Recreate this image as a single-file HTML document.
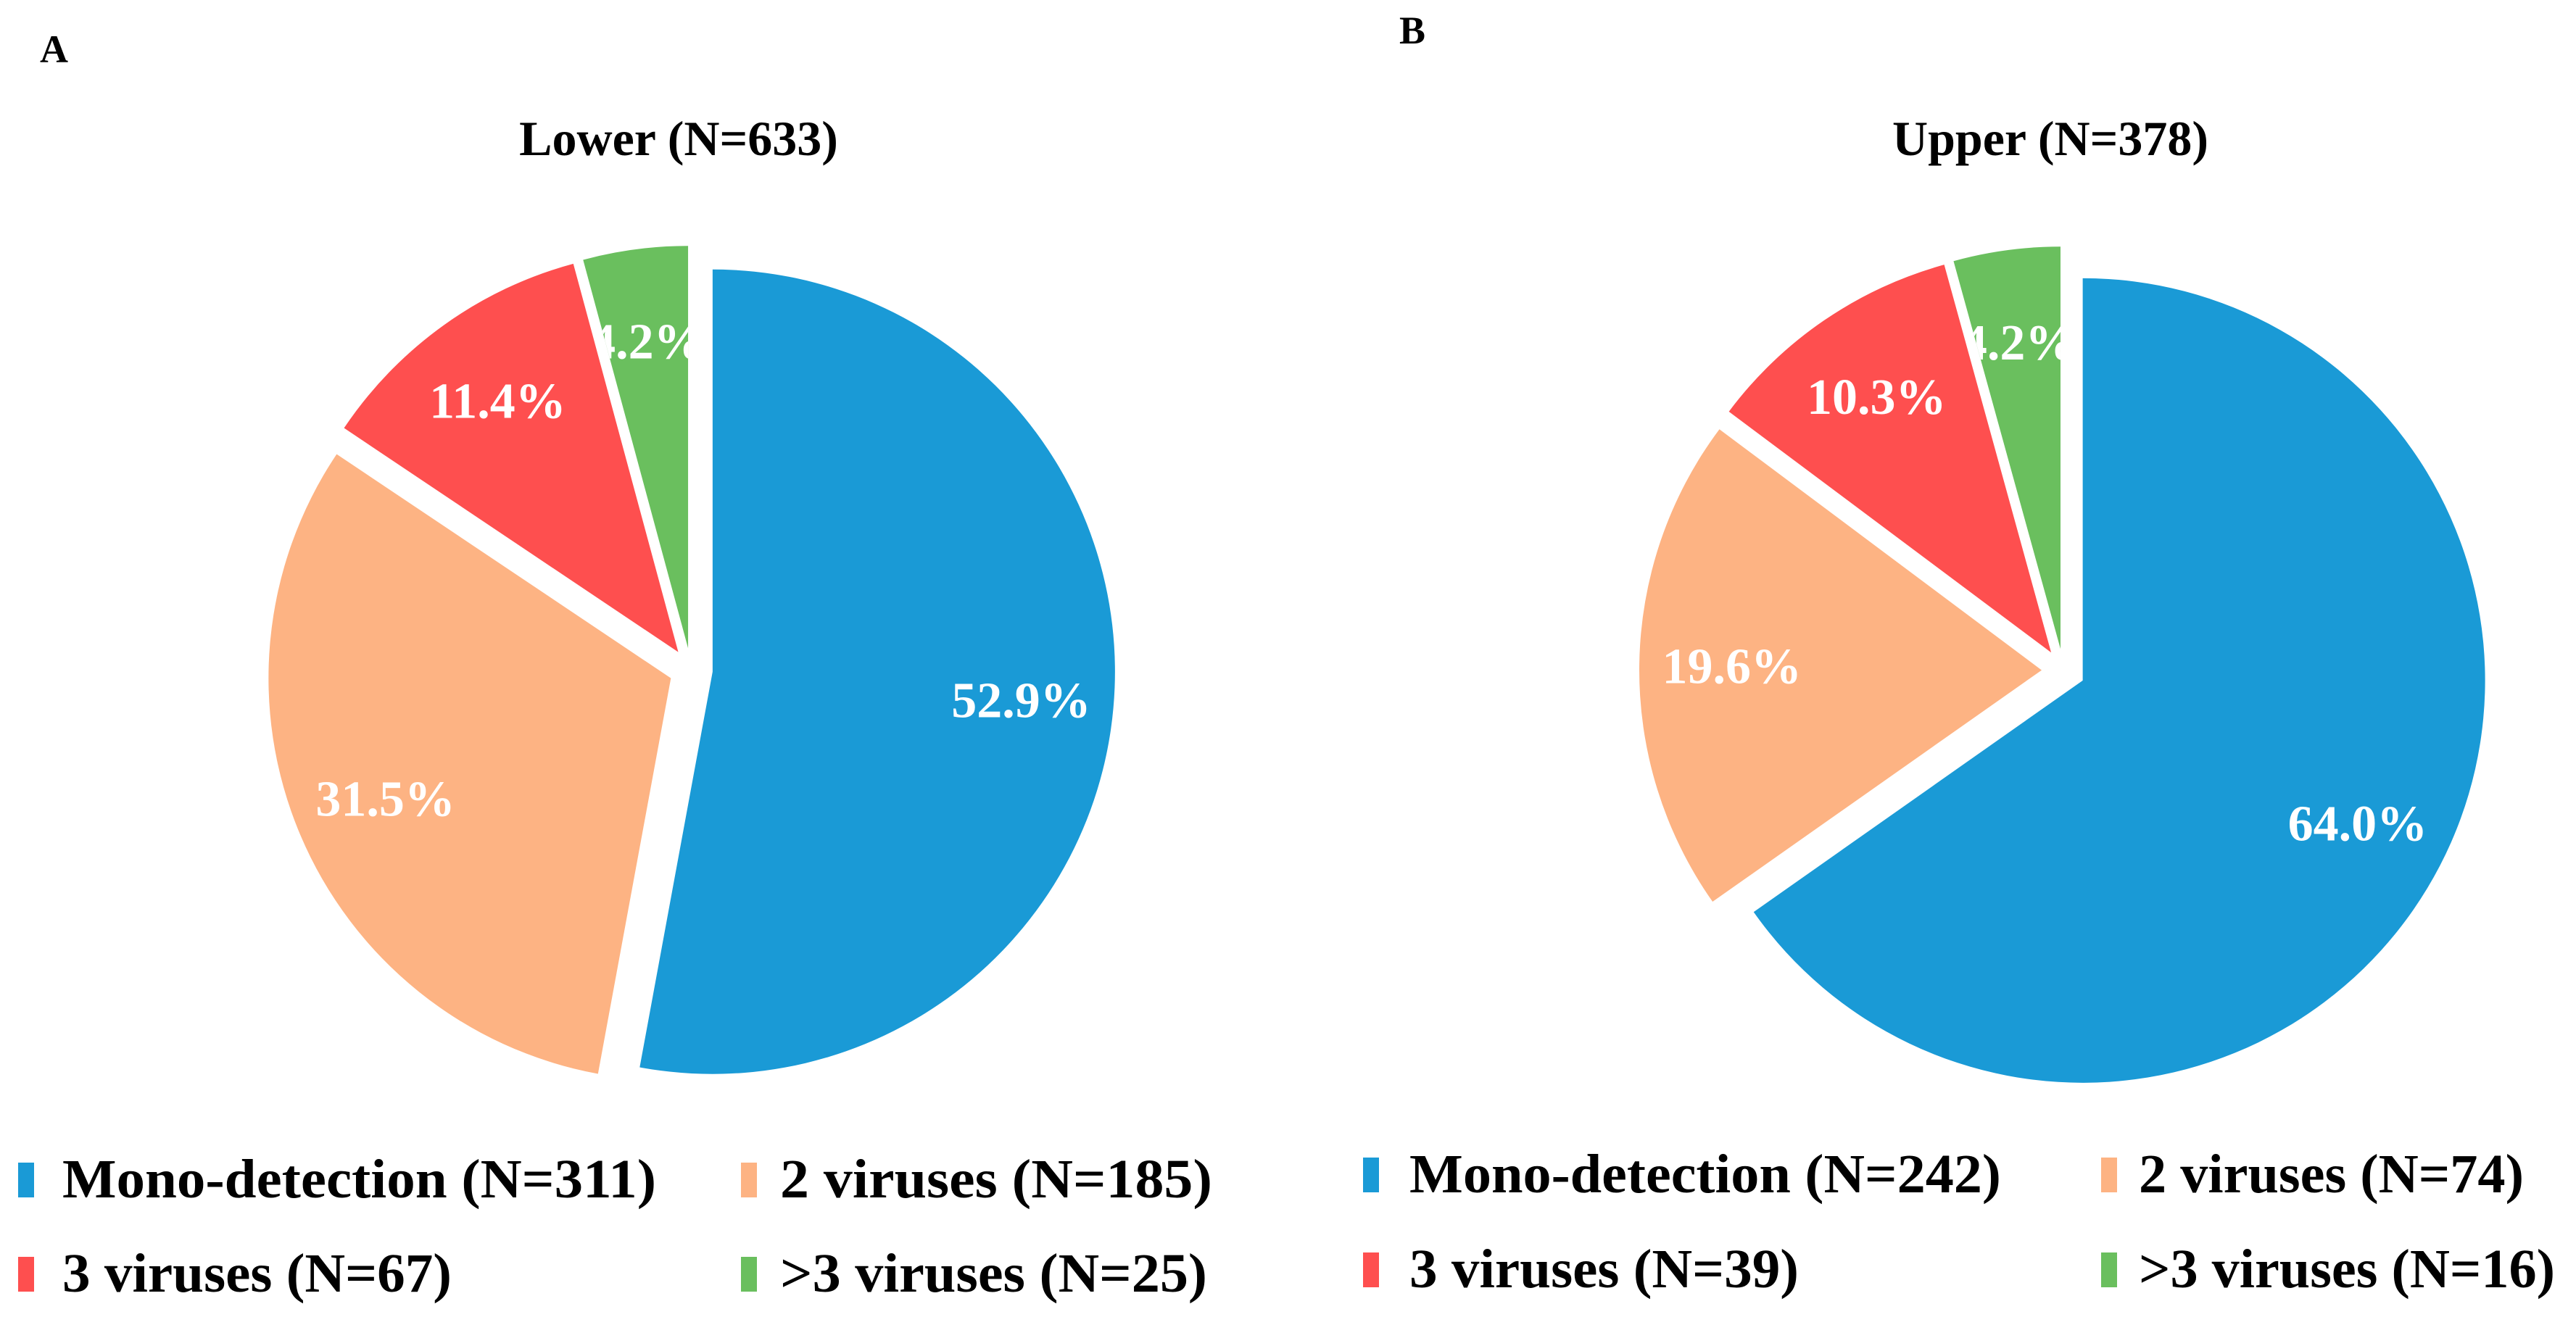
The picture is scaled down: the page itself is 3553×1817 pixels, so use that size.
<!DOCTYPE html>
<html><head><meta charset="utf-8"><style>
html,body{margin:0;padding:0;background:#fff;}
svg{display:block;}
text{font-family:"Liberation Serif",serif;font-weight:bold;}
</style></head><body>
<svg id="chart" width="3553" height="1817" viewBox="0 0 3553 1817" xmlns="http://www.w3.org/2000/svg">
<rect width="3553" height="1817" fill="#fff"/>
<text x="55" y="86" font-size="54" fill="#000">A</text>
<text x="1930" y="60" font-size="54" fill="#000">B</text>
<text x="936" y="214" font-size="68" text-anchor="middle" fill="#000">Lower (N=633)</text>
<text x="2828" y="214" font-size="68" text-anchor="middle" fill="#000">Upper (N=378)</text>
<g id="pies"></g>
<g id="legend"></g>
</svg>
<script>
const categories = ["Mono-detection", "2 viruses", "3 viruses", ">3 viruses"];
const lowerCounts = [311, 185, 67, 25];
const upperCounts = [242, 74, 39, 16];
const lowerPct = [52.9, 31.5, 11.4, 4.2];
const upperPct = [64.0, 19.6, 10.3, 4.2];
const colors = ["#1a9ad6", "#fdb383", "#fe4f4f", "#6abf5e"];

const NS = "http://www.w3.org/2000/svg";
const pies = document.getElementById("pies");
const legend = document.getElementById("legend");
const R = 555, D = 30, LR = 0.77;

function polar(cx, cy, r, a) {
  const t = a * Math.PI / 180;
  return [cx + r * Math.sin(t), cy - r * Math.cos(t)];
}

function drawPie(id, cx, cy, pct) {
  const total = pct.reduce((s, v) => s + v, 0);
  let start = 0;
  pct.forEach((v, i) => {
    const sweep = v / total * 360;
    const end = start + sweep;
    const mid = start + sweep / 2;
    const [ox, oy] = polar(0, 0, D, mid);
    const vx = cx + ox, vy = cy + oy;
    const [x1, y1] = polar(vx, vy, R, start);
    const [x2, y2] = polar(vx, vy, R, end);
    const large = sweep > 180 ? 1 : 0;
    const d = `M${vx},${vy} L${x1},${y1} A${R},${R} 0 ${large} 1 ${x2},${y2} Z`;
    const cp = document.createElementNS(NS, "clipPath");
    cp.setAttribute("id", `clip-${id}-${i}`);
    const cpp = document.createElementNS(NS, "path");
    cpp.setAttribute("d", d);
    cp.appendChild(cpp);
    pies.appendChild(cp);
    const p = document.createElementNS(NS, "path");
    p.setAttribute("d", d);
    p.setAttribute("fill", colors[i]);
    
    
    pies.appendChild(p);
    const [lx, ly] = polar(vx, vy, R * LR, mid);
    const t = document.createElementNS(NS, "text");
    t.setAttribute("x", lx);
    t.setAttribute("y", ly + 24);
    t.setAttribute("font-size", "70");
    t.setAttribute("fill", "#fff");
    t.setAttribute("text-anchor", "middle");
    t.setAttribute("clip-path", `url(#clip-${id}-${i})`);
    t.textContent = v.toFixed(1) + "%";
    
    
    pies.appendChild(t);
    start = end;
  });
}
drawPie("lower", 953, 924, lowerPct);
drawPie("upper", 2846, 925, upperPct);

function drawLegend(id, counts, cols, rows, ends) {
  counts.forEach((c, i) => {
    const col = i % 2, row = Math.floor(i / 2);
    const g = document.createElementNS(NS, "g");
    
    
    const r = document.createElementNS(NS, "rect");
    r.setAttribute("x", cols[col][0]);
    r.setAttribute("y", rows[row] - 48);
    r.setAttribute("width", 22);
    r.setAttribute("height", 48);
    r.setAttribute("fill", colors[i]);
    
    
    g.appendChild(r);
    const t = document.createElementNS(NS, "text");
    t.setAttribute("x", cols[col][1]);
    t.setAttribute("y", rows[row]);
    t.setAttribute("font-size", "76");
    t.setAttribute("fill", "#000");
    t.setAttribute("textLength", ends[i] - cols[col][1]);
    t.setAttribute("lengthAdjust", "spacingAndGlyphs");
    t.textContent = `${categories[i]} (N=${c})`;
    
    
    g.appendChild(t);
    legend.appendChild(g);
  });
}
drawLegend("lower", lowerCounts, [[25, 86], [1022, 1076]], [1652, 1782], [905, 1672, 623, 1665]);
drawLegend("upper", upperCounts, [[1880, 1944], [2898, 2950]], [1645, 1776], [2760, 3481, 2481, 3524]);
</script>
</body></html>
